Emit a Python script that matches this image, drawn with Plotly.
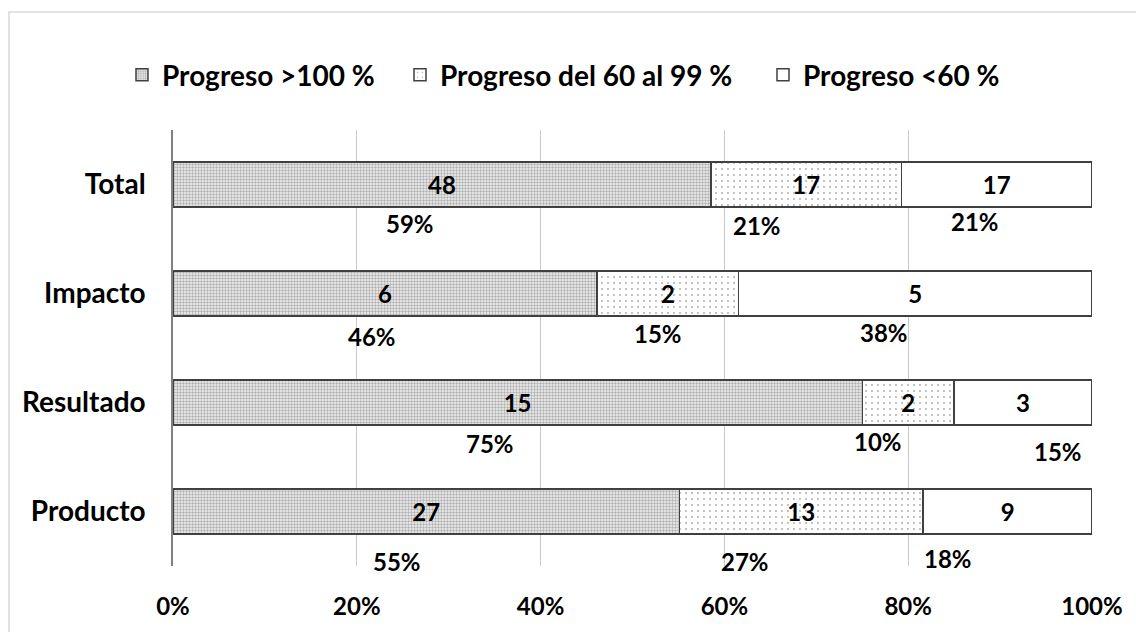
import plotly.graph_objects as go

categories = ["Producto", "Resultado", "Impacto", "Total"]
series_names = ["Progreso >100 %", "Progreso del 60 al 99 %", "Progreso <60 %"]
high = [27, 15, 6, 48]
mid = [13, 2, 2, 17]
low = [9, 3, 5, 17]
x_ticks = [0, 20, 40, 60, 80, 100]
x_tick_labels = ["0%", "20%", "40%", "60%", "80%", "100%"]

# percent label placement (x in % of axis, y offset in category units)
pct_label_x = [
    [24.4, 62.2, 84.3],
    [34.5, 76.7, 96.3],
    [21.7, 52.8, 77.4],
    [25.8, 63.5, 87.3],
]
pct_label_dy = [
    [-0.46, -0.46, -0.43],
    [-0.38, -0.36, -0.45],
    [-0.39, -0.37, -0.36],
    [-0.36, -0.38, -0.34],
]
# legend entry left positions (paper x)
legend_x = [-0.0555, 0.247, 0.642]

FONT = "Lato, 'Open Sans', sans-serif"
line_col = "#404040"

patterns = [
    dict(shape=".", size=3, solidity=0.5, fgcolor="#707070", bgcolor="#f2f2f2", fillmode="overlay"),
    dict(shape=".", size=6, solidity=0.07, fgcolor="#505050", bgcolor="white", fillmode="overlay"),
    dict(shape="", fgcolor="white", bgcolor="white"),
]
legend_ids = ["legend", "legend2", "legend3"]

fig = go.Figure()
for name, vals, pat, lid in zip(series_names, [high, mid, low], patterns, legend_ids):
    fig.add_trace(go.Bar(
        y=categories, x=vals, name=name, orientation="h", legend=lid,
        text=vals, texttemplate="<b>%{text}</b>", textposition="inside",
        insidetextanchor="middle", textangle=0,
        textfont=dict(family=FONT, size=24, color="black"),
        marker=dict(color="white", pattern=pat, line=dict(color=line_col, width=1.5)),
        width=0.413,
    ))

annotations = []
for i, cat in enumerate(categories):
    tot = high[i] + mid[i] + low[i]
    for j, v in enumerate([high[i], mid[i], low[i]]):
        pct = round(100 * v / tot)
        annotations.append(dict(
            x=pct_label_x[i][j], y=i + pct_label_dy[i][j], xref="x", yref="y",
            text=f"<b>{pct}%</b>", showarrow=False,
            font=dict(family=FONT, size=24, color="black"),
        ))

legend_common = dict(orientation="h", xanchor="left", y=1.126, yanchor="middle",
                     font=dict(family=FONT, size=28, color="black", weight="bold"),
                     itemwidth=30, bgcolor="rgba(0,0,0,0)")

fig.update_layout(
    barmode="stack", barnorm="percent",
    width=1136, height=632,
    margin=dict(l=173, r=44, t=130, b=66, autoexpand=False),
    paper_bgcolor="white", plot_bgcolor="white",
    font=dict(family=FONT, size=24, color="black"),
    showlegend=True,
    legend=dict(x=legend_x[0], **legend_common),
    legend2=dict(x=legend_x[1], **legend_common),
    legend3=dict(x=legend_x[2], **legend_common),
    annotations=annotations,
    shapes=[dict(type="rect", xref="paper", yref="paper",
                 x0=-0.1785, x1=1.1, y0=-0.3, y1=1.2706,
                 line=dict(color="#d9d9d9", width=1.5), fillcolor="rgba(0,0,0,0)", layer="below")],
)
fig.update_xaxes(range=[0, 100], tickvals=x_ticks, ticktext=x_tick_labels,
                 showgrid=True, gridcolor="#c8c8c8", gridwidth=1.2,
                 zeroline=False, showline=False, automargin=False,
                 tickfont=dict(family=FONT, size=24, color="black", weight="bold"),
                 ticklabelstandoff=24)
fig.update_yaxes(categoryorder="array", categoryarray=categories, range=[-0.5, 3.5],
                 showline=True, linecolor="#808080", linewidth=1.5,
                 showgrid=False, zeroline=False, automargin=False,
                 tickfont=dict(family=FONT, size=28, color="black", weight="bold"),
                 ticklabelstandoff=20)

fig.write_html("out.html", config={"displayModeBar": False},
               post_script="document.body.style.margin='0px';")
